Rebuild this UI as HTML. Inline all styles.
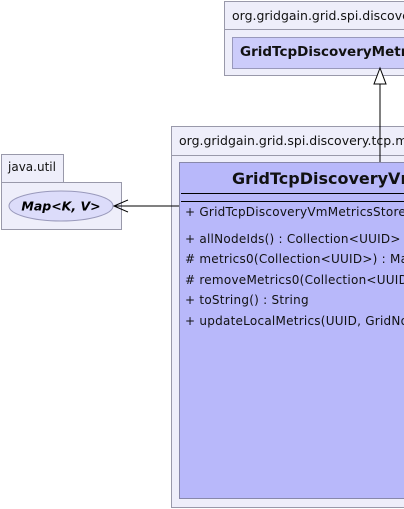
<!DOCTYPE html>
<html><head><style>
body{margin:0;width:404px;height:509px;background:#fff;overflow:hidden;position:relative;font-family:"DejaVu Sans",sans-serif;}
#w{position:absolute;left:0;top:0;width:404px;height:509px;overflow:hidden;}
#w div{position:absolute;box-sizing:border-box;}
.pk{background:#eeeefa;border:1px solid #9999aa;}
.t{font-size:12.5px;color:#111;white-space:nowrap;}
.m{font-size:12px;letter-spacing:0.25px;color:#111;white-space:nowrap;}
</style></head><body><div id="w">
<div class="pk" style="left:224px;top:1px;width:200px;height:75px"></div>
<div style="left:224px;top:29px;width:200px;height:1px;background:#9999aa"></div>
<div class="t" style="left:232px;top:8px">org.gridgain.grid.spi.discovery.tcp.metricsstore</div>
<div style="left:232px;top:37px;width:200px;height:32px;background:#ccccfa;border:1px solid #9999bb"></div>
<div class="t" style="left:240px;top:44px;font-weight:bold;font-size:13.5px">GridTcpDiscoveryMetricsStore</div>

<div class="pk" style="left:171px;top:126px;width:260px;height:382px"></div>
<div style="left:171px;top:155px;width:260px;height:1px;background:#9999aa"></div>
<div class="t" style="left:179px;top:133px">org.gridgain.grid.spi.discovery.tcp.metricsstore.vm</div>
<div style="left:179px;top:162px;width:260px;height:337px;background:#b8b8fa;border:1px solid #8888aa"></div>
<div class="t" style="left:232px;top:169px;font-weight:bold;font-size:16px">GridTcpDiscoveryVmMetricsStore</div>
<div style="left:181px;top:193px;width:240px;height:1px;background:#000"></div>
<div style="left:181px;top:201px;width:240px;height:1px;background:#000"></div>
<div class="m" style="left:185px;top:205px">+ GridTcpDiscoveryVmMetricsStore()</div>
<div class="m" style="left:185px;top:232px">+ allNodeIds() : Collection&lt;UUID&gt;</div>
<div class="m" style="left:185px;top:252px"># metrics0(Collection&lt;UUID&gt;) : Map&lt;UUID, GridNodeMetrics&gt;</div>
<div class="m" style="left:185px;top:273px"># removeMetrics0(Collection&lt;UUID&gt;) : void</div>
<div class="m" style="left:185px;top:293px">+ toString() : String</div>
<div class="m" style="left:185px;top:314px">+ updateLocalMetrics(UUID, GridNodeMetrics) : void</div>

<div class="pk" style="left:1px;top:154px;width:63px;height:29px"></div>
<div class="t" style="left:8px;top:160px;font-size:12px">java.util</div>
<div class="pk" style="left:1px;top:182px;width:121px;height:48px"></div>

<svg style="position:absolute;left:0;top:0" width="404" height="509">
<ellipse cx="61" cy="206" rx="52" ry="15" fill="#dcdcfa" stroke="#9999bb"/>
<text x="61" y="210.5" text-anchor="middle" font-family="DejaVu Sans" font-size="12.5" font-weight="bold" font-style="italic">Map&lt;K, V&gt;</text>
<line x1="179" y1="206" x2="114" y2="206" stroke="#000"/>
<polyline points="128,200 114,206 128,212" fill="none" stroke="#000"/>
<line x1="380" y1="162" x2="380" y2="84" stroke="#000"/>
<polygon points="380,68 374,84 386,84" fill="#fff" stroke="#000"/>
</svg>
</div></body></html>
